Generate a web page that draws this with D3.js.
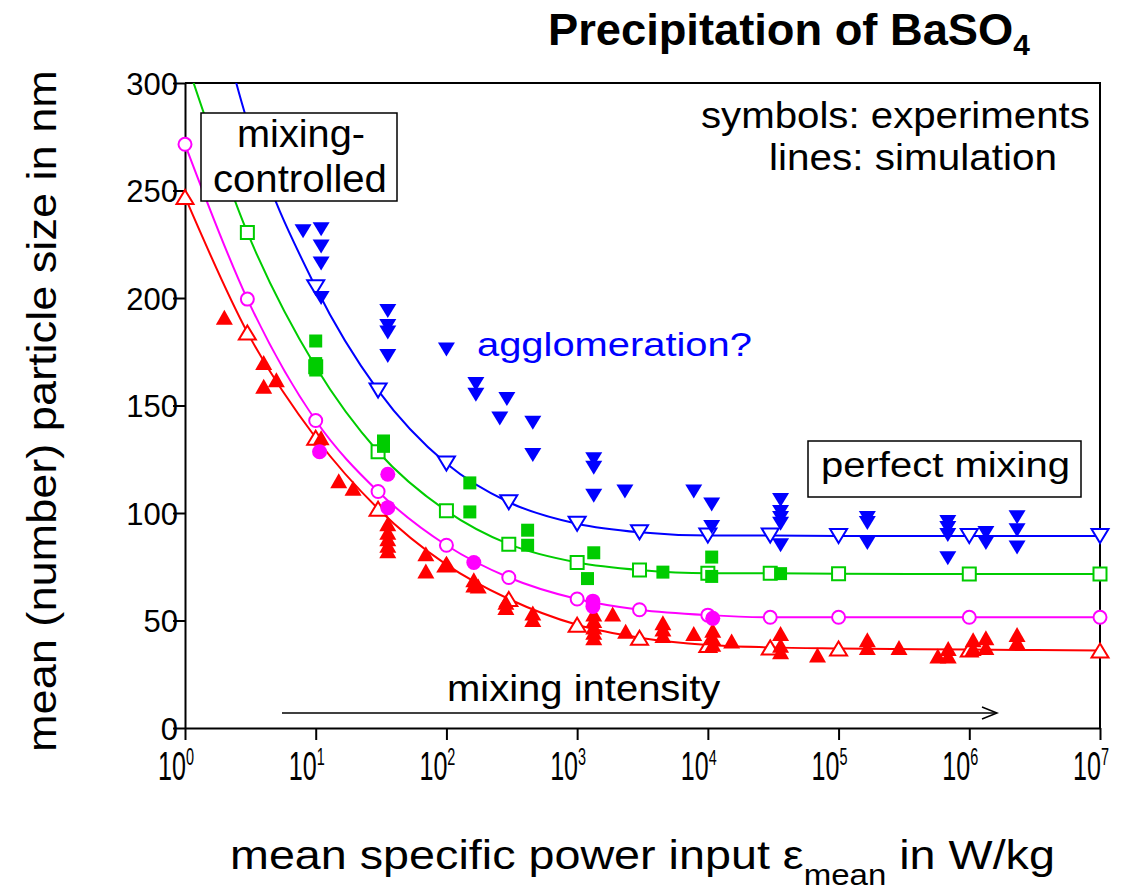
<!DOCTYPE html>
<html>
<head>
<meta charset="utf-8">
<script src="https://cdn.jsdelivr.net/npm/d3@7"></script>
<style>
  body { margin: 0; background: #fff; }
  svg { display: block; }
  text { font-family: "Liberation Sans", Arial, Helvetica, sans-serif; fill: #000; }
  text.narrow { font-family: "Liberation Sans Narrow", "Arial Narrow", "Liberation Sans", Arial, sans-serif; }
</style>
</head>
<body>
<svg id="chart" width="1132" height="891"></svg>
<script>
// ---- simulation curves (lines with open symbols) ----
const simX = [1, 3, 10, 30, 100, 300, 1000, 3000, 1e4, 3e4, 1e5, 1e6, 1e7];
const simBlue    = [400, 282, 205, 157, 123, 105, 95, 91, 89.5, 89.5, 89.3, 89.3, 89.3];
const simGreen   = [312, 230.5, 168, 128.5, 101, 85.5, 77, 73.5, 72, 72, 71.7, 71.6, 71.6];
const simMagenta = [271.5, 199.5, 143, 110, 85, 70, 60, 55, 52.5, 51.5, 51.5, 51.5, 51.5];
const simRed     = [247, 184, 135, 102, 76, 60, 48, 42, 38.6, 37.5, 37, 36.5, 36];

// ---- experiments (filled symbols): [power input W/kg, size nm] ----
const expBlue = [
  [8, 231], [11, 232], [11, 224], [11, 216], [11, 200],
  [35.6, 194], [35.6, 187], [35.6, 184], [35.6, 173],
  [100, 176], [168, 160], [168, 155], [290, 153], [256, 144], [458, 142], [458, 127],
  [1340, 125], [1340, 121], [1340, 108], [2320, 110], [7800, 110],
  [10700, 104], [10700, 93.5],
  [36000, 106], [36000, 100.5], [36000, 97.7], [36000, 95], [36000, 85],
  [166000, 97.7], [166000, 95.3], [166000, 86],
  [685000, 95.8], [685000, 93], [685000, 89.8], [685000, 79],
  [1.34e6, 90.7], [1.34e6, 86],
  [2.32e6, 98], [2.32e6, 92], [2.32e6, 84]
];
const expGreen = [
  [10, 180], [10, 169.5], [10, 166.5], [33, 133.5], [33, 131],
  [151, 114], [151, 100.5], [418, 92], [418, 85],
  [1340, 81.5], [1200, 69.5], [4530, 72.5],
  [10700, 79.5], [10700, 70.5], [36000, 71.8]
];
const expRed = [
  [2.0, 191], [4.0, 170], [4.0, 159], [5.0, 162], [11, 135], [15, 115], [19.3, 111.5],
  [35.6, 95], [35.6, 91], [35.6, 88], [35.6, 85], [35.6, 82.5],
  [69.6, 81], [69.6, 73], [100, 76], [162, 69], [162, 66.5], [175, 66],
  [285, 58.5], [285, 56], [458, 53.5], [458, 50.5],
  [1340, 53], [1340, 50], [1340, 47], [1340, 44.5], [1340, 42],
  [1870, 53], [2350, 45], [4530, 49], [4530, 46], [4530, 43], [7800, 44],
  [10900, 45.5], [10900, 42], [10900, 39], [15200, 40.5],
  [36000, 44], [36000, 38.5], [36000, 35.5], [69000, 34],
  [166000, 41], [166000, 37.5], [290000, 37.5], [575000, 33.5], [690000, 37], [690000, 33.5],
  [1.07e6, 41], [1.07e6, 37], [1.34e6, 42], [1.34e6, 37.5], [2.32e6, 43.5], [2.32e6, 40]
];
const expMagenta = [
  [10.7, 128.5], [35.6, 118], [35.6, 102.5], [162, 77], [1320, 59], [1320, 56.5], [10900, 51]
];

// ---- axis ticks ----
const yTicks = [0, 50, 100, 150, 200, 250, 300];
const xExponents = [0, 1, 2, 3, 4, 5, 6, 7];

const colors = { blue: "#0000ff", green: "#00cc00", magenta: "#ff00ff", red: "#ff0000" };

(function draw() {
  const svg = d3.select("#chart");
  const pL = 185, pR = 1100, pT = 83, pB = 728;

  const x = d3.scaleLog().domain([1, 1e7]).range([pL, pR]);
  const y = d3.scaleLinear().domain([0, 300]).range([pB, pT]);

  // scale a text horizontally so that it spans [l, l+width]
  function fitLeft(sel, l, baseline, width) {
    const bb = sel.node().getBBox();
    const s = width / bb.width;
    sel.attr("transform", `translate(${l - bb.x * s},${baseline}) scale(${s},1)`);
    return sel;
  }

  // marker shapes
  const triUp = (w, h) => `M0,${-h / 2}L${w / 2},${h / 2}L${-w / 2},${h / 2}Z`;
  const triDown = (w, h) => `M0,${h / 2}L${w / 2},${-h / 2}L${-w / 2},${-h / 2}Z`;
  const square = s => `M${-s / 2},${-s / 2}h${s}v${s}h${-s}Z`;
  const circle = r => `M${r},0A${r},${r} 0 1,1 ${-r},0A${r},${r} 0 1,1 ${r},0Z`;

  svg.append("defs").append("clipPath").attr("id", "plotClip")
    .append("rect").attr("x", 0).attr("y", pT).attr("width", 1132).attr("height", 891 - pT);

  // ---- axes ----
  const yAxis = d3.axisLeft(y).tickValues(yTicks).tickSize(12).tickSizeOuter(0).tickFormat(d3.format("d"));
  const gy = svg.append("g").attr("transform", `translate(${pL},0)`).call(yAxis);
  gy.selectAll("path,line").attr("stroke", "#000").attr("stroke-width", 2);
  gy.selectAll("text").attr("x", -7).attr("dy", null).attr("y", 11)
    .attr("fill", "#000")
    .style("font-size", "31px").style("font-family", '"Liberation Sans", Arial, sans-serif');

  const xAxis = d3.axisBottom(x).tickValues(xExponents.map(e => Math.pow(10, e)))
    .tickSize(12).tickSizeOuter(0).tickFormat("");
  const gx = svg.append("g").attr("transform", `translate(0,${pB})`).call(xAxis);
  gx.selectAll("path,line").attr("stroke", "#000").attr("stroke-width", 2);

  // tick labels 10^k
  xExponents.forEach(e => {
    const t = svg.append("text").attr("class", "narrow").style("font-size", "40px");
    t.append("tspan").text("10");
    t.append("tspan").attr("dy", -15).style("font-size", "23px").text(String(e));
    fitLeft(t, x(Math.pow(10, e)) - 27, 780, 36);
  });

  // frame (top and right)
  svg.append("path")
    .attr("d", `M${pL},${pT}H${pR}V${pB}`)
    .attr("fill", "none").attr("stroke", "#000").attr("stroke-width", 2);

  // ---- simulation lines ----
  const plot = svg.append("g").attr("clip-path", "url(#plotClip)");
  const line = d3.line().x(d => x(d[0])).y(d => y(d[1])).curve(d3.curveMonotoneX);
  const sims = [
    { vals: simBlue, color: colors.blue, shape: triDown(17, 14) },
    { vals: simGreen, color: colors.green, shape: square(13) },
    { vals: simMagenta, color: colors.magenta, shape: circle(6.5) },
    { vals: simRed, color: colors.red, shape: triUp(17, 14) }
  ];
  sims.forEach(s => {
    const pts = simX.map((v, i) => [v, s.vals[i]]);
    plot.append("path").datum(pts).attr("d", line)
      .attr("fill", "none").attr("stroke", s.color).attr("stroke-width", 2);
  });
  sims.forEach(s => {
    const pts = simX.map((v, i) => [v, s.vals[i]]);
    plot.append("g").selectAll("path").data(pts).join("path")
      .attr("transform", d => `translate(${x(d[0])},${y(d[1])})`)
      .attr("d", s.shape).attr("fill", "#fff")
      .attr("stroke", s.color).attr("stroke-width", 2);
  });

  // ---- experimental points ----
  const exps = [
    { data: expBlue, color: colors.blue, shape: triDown(17, 14) },
    { data: expGreen, color: colors.green, shape: square(13) },
    { data: expRed, color: colors.red, shape: triUp(17, 15) },
    { data: expMagenta, color: colors.magenta, shape: circle(7.5) }
  ];
  exps.forEach(s => {
    plot.append("g").selectAll("path").data(s.data).join("path")
      .attr("transform", d => `translate(${x(d[0])},${y(d[1])})`)
      .attr("d", s.shape).attr("fill", s.color);
  });

  // ---- annotations ----
  svg.append("rect").attr("x", 201).attr("y", 113).attr("width", 196).attr("height", 88)
    .attr("fill", "#fff").attr("stroke", "#000").attr("stroke-width", 1.5);
  fitLeft(svg.append("text").style("font-size", "38px").text("mixing-"), 237, 147, 128);
  fitLeft(svg.append("text").style("font-size", "38px").text("controlled"), 213, 192, 174);

  svg.append("rect").attr("x", 808).attr("y", 441).attr("width", 273).attr("height", 56)
    .attr("fill", "#fff").attr("stroke", "#000").attr("stroke-width", 1.5);
  fitLeft(svg.append("text").style("font-size", "35px").text("perfect mixing"), 821, 477, 249);

  fitLeft(svg.append("text").style("font-size", "37px").text("symbols: experiments"), 701, 128, 389);
  fitLeft(svg.append("text").style("font-size", "37px").text("lines: simulation"), 769, 170, 288);

  fitLeft(svg.append("text").style("font-size", "33px").style("fill", colors.blue)
    .text("agglomeration?"), 477, 356, 275);

  fitLeft(svg.append("text").attr("class", "narrow").style("font-size", "37px")
    .text("mixing intensity"), 447, 701, 274);
  svg.append("line").attr("x1", 282).attr("x2", 996).attr("y1", 713).attr("y2", 713)
    .attr("stroke", "#000").attr("stroke-width", 1.5);
  svg.append("path").attr("d", "M982,707L997,713L982,719")
    .attr("fill", "none").attr("stroke", "#000").attr("stroke-width", 1.5);

  // title
  const title = svg.append("text").attr("class", "narrow")
    .style("font-size", "44px").style("font-weight", "bold");
  title.append("tspan").text("Precipitation of BaSO");
  title.append("tspan").attr("dy", 10).style("font-size", "29px").text("4");
  fitLeft(title, 548, 45, 482);

  // axis titles
  const xt = svg.append("text").attr("class", "narrow").style("font-size", "41px");
  xt.append("tspan").text("mean specific power input \u03b5");
  xt.append("tspan").attr("dy", 16).style("font-size", "29px").text("mean");
  xt.append("tspan").attr("dy", -16).text(" in W/kg");
  fitLeft(xt, 230, 869, 825);

  const ytg = svg.append("g").attr("transform", "translate(56,752) rotate(-90)");
  fitLeft(ytg.append("text").style("font-size", "40px").text("mean (number) particle size in nm"), 0, 0, 682);
})();
</script>
</body>
</html>
